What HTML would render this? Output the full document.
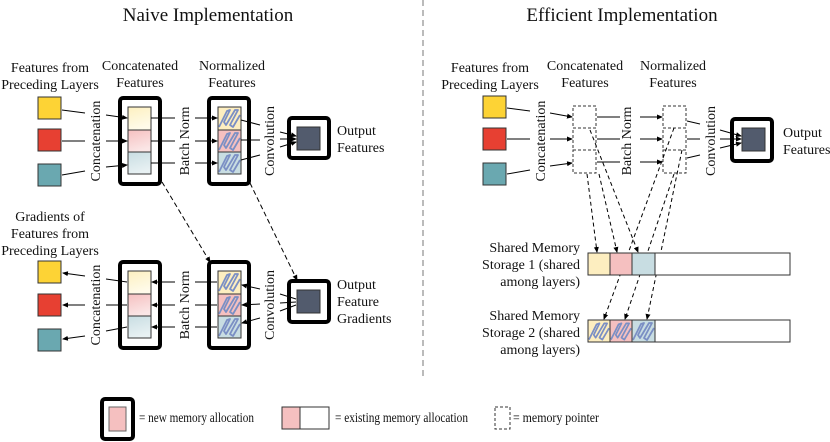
<!DOCTYPE html>
<html><head><meta charset="utf-8"><style>
html,body{margin:0;padding:0;background:#fff}
svg{display:block}
text{font-family:"Liberation Serif",serif;fill:#111}
</style></head><body>
<svg width="830" height="442" viewBox="0 0 830 442" xmlns="http://www.w3.org/2000/svg">
<defs>
<marker id="a" markerWidth="6" markerHeight="6" refX="5" refY="3" orient="auto" markerUnits="userSpaceOnUse"><path d="M0,0.5 L6,3 L0,5.5z" fill="#000"/></marker>
<linearGradient id="gy" x1="0" y1="0" x2="0.3" y2="1"><stop offset="0" stop-color="#fdf0c0"/><stop offset="1" stop-color="#fffbea"/></linearGradient>
<linearGradient id="gr" x1="0" y1="0" x2="0.3" y2="1"><stop offset="0" stop-color="#f5c0c0"/><stop offset="1" stop-color="#fbe6e6"/></linearGradient>
<linearGradient id="gt" x1="0" y1="0" x2="0.3" y2="1"><stop offset="0" stop-color="#c8dde2"/><stop offset="1" stop-color="#e8f1f3"/></linearGradient>
<symbol id="h" viewBox="0 0 23 22" width="23" height="22"><polyline points="1,20 9,4 12,3 6,15 8,18 17,3 20,3 12,18 15,20 22,8" fill="none" stroke="#7b8fc4" stroke-width="1.8" stroke-linejoin="round"/></symbol>
</defs>
<g font-size="13">
<text x="208" y="21" font-size="19" text-anchor="middle">Naive Implementation</text>
<text x="622" y="21" font-size="19" text-anchor="middle">Efficient Implementation</text>
</g>
<line x1="423" y1="0" x2="423" y2="380" stroke="#777" stroke-dasharray="6,4"/>

<!-- LEFT TOP -->
<g font-size="14" text-anchor="middle">
<text x="50" y="72">Features from</text><text x="50" y="89">Preceding Layers</text>
<text x="140" y="70">Concatenated</text><text x="140" y="87">Features</text>
<text x="232" y="70">Normalized</text><text x="232" y="87">Features</text>
</g>
<g stroke="#333" stroke-width="1">
<rect x="38" y="97" width="23" height="22" fill="#fdd335"/>
<rect x="38" y="129" width="23" height="22" fill="#e74032"/>
<rect x="38" y="164" width="23" height="22" fill="#6aa8b0"/>
</g>
<rect x="120" y="98" width="40" height="86" rx="3" fill="#fff" stroke="#000" stroke-width="4"/>
<rect x="128" y="107" width="23" height="23" fill="url(#gy)" stroke="#333"/>
<rect x="128" y="130" width="23" height="22" fill="url(#gr)" stroke="#333"/>
<rect x="128" y="152" width="23" height="22" fill="url(#gt)" stroke="#333"/>
<rect x="209" y="98" width="40" height="86" rx="3" fill="#fff" stroke="#000" stroke-width="4"/>
<rect x="218" y="107" width="23" height="23" fill="#fdeec0" stroke="#333"/>
<rect x="218" y="130" width="23" height="22" fill="#f5c0c0" stroke="#333"/>
<rect x="218" y="152" width="23" height="22" fill="#c8dde2" stroke="#333"/>
<use href="#h" x="218" y="107"/><use href="#h" x="218" y="130"/><use href="#h" x="218" y="152"/>
<rect x="289" y="118" width="40" height="40" rx="3" fill="#fff" stroke="#000" stroke-width="4"/>
<rect x="297" y="127" width="23" height="23" fill="#525b6d" stroke="#333"/>
<text x="337" y="135" font-size="14">Output</text><text x="337" y="152" font-size="14">Features</text>
<g font-size="14" text-anchor="middle">
<text transform="translate(100,141) rotate(-90)">Concatenation</text>
<text transform="translate(189,141) rotate(-90)">Batch Norm</text>
<text transform="translate(274,141) rotate(-90)">Convolution</text>
</g>
<g stroke="#000" stroke-width="1" fill="none">
<line x1="62" y1="110" x2="85" y2="113"/><line x1="106" y1="115" x2="127" y2="118" marker-end="url(#a)"/>
<line x1="62" y1="141" x2="85" y2="141"/><line x1="106" y1="141" x2="127" y2="141" marker-end="url(#a)"/>
<line x1="62" y1="175" x2="85" y2="171"/><line x1="106" y1="167" x2="127" y2="165" marker-end="url(#a)"/>
<line x1="151" y1="118" x2="175" y2="118"/><line x1="195" y1="118" x2="217" y2="118" marker-end="url(#a)"/>
<line x1="151" y1="141" x2="175" y2="141"/><line x1="195" y1="141" x2="217" y2="141" marker-end="url(#a)"/>
<line x1="151" y1="163" x2="175" y2="163"/><line x1="195" y1="163" x2="217" y2="163" marker-end="url(#a)"/>
<line x1="241" y1="120" x2="260" y2="125"/><line x1="280" y1="132" x2="296" y2="136" marker-end="url(#a)"/>
<line x1="241" y1="140" x2="260" y2="140"/><line x1="280" y1="139" x2="296" y2="139" marker-end="url(#a)"/>
<line x1="241" y1="160" x2="260" y2="155"/><line x1="280" y1="147" x2="296" y2="142" marker-end="url(#a)"/>
<line x1="162" y1="182" x2="210" y2="262" stroke-dasharray="5,3" marker-end="url(#a)"/>
<line x1="250" y1="183" x2="297" y2="280" stroke-dasharray="5,3" marker-end="url(#a)"/>
</g>

<!-- LEFT BOTTOM -->
<g font-size="14" text-anchor="middle">
<text x="50" y="221">Gradients of</text><text x="50" y="238">Features from</text><text x="50" y="255">Preceding Layers</text>
</g>
<g stroke="#333" stroke-width="1">
<rect x="38" y="261" width="23" height="22" fill="#fdd335"/>
<rect x="38" y="294" width="23" height="22" fill="#e74032"/>
<rect x="38" y="329" width="23" height="22" fill="#6aa8b0"/>
</g>
<rect x="120" y="262" width="40" height="86" rx="3" fill="#fff" stroke="#000" stroke-width="4"/>
<rect x="128" y="271" width="23" height="23" fill="url(#gy)" stroke="#333"/>
<rect x="128" y="294" width="23" height="22" fill="url(#gr)" stroke="#333"/>
<rect x="128" y="316" width="23" height="22" fill="url(#gt)" stroke="#333"/>
<rect x="209" y="262" width="40" height="86" rx="3" fill="#fff" stroke="#000" stroke-width="4"/>
<rect x="218" y="271" width="23" height="23" fill="#fdeec0" stroke="#333"/>
<rect x="218" y="294" width="23" height="22" fill="#f5c0c0" stroke="#333"/>
<rect x="218" y="316" width="23" height="22" fill="#c8dde2" stroke="#333"/>
<use href="#h" x="218" y="271"/><use href="#h" x="218" y="294"/><use href="#h" x="218" y="316"/>
<rect x="289" y="281" width="40" height="41" rx="3" fill="#fff" stroke="#000" stroke-width="4"/>
<rect x="297" y="290" width="23" height="23" fill="#525b6d" stroke="#333"/>
<text x="337" y="289" font-size="14">Output</text><text x="337" y="306" font-size="14">Feature</text><text x="337" y="323" font-size="14">Gradients</text>
<g font-size="14" text-anchor="middle">
<text transform="translate(100,305) rotate(-90)">Concatenation</text>
<text transform="translate(189,305) rotate(-90)">Batch Norm</text>
<text transform="translate(274,305) rotate(-90)">Convolution</text>
</g>
<g stroke="#000" stroke-width="1" fill="none">
<line x1="85" y1="276" x2="63" y2="273" marker-end="url(#a)"/><line x1="127" y1="282" x2="106" y2="279"/>
<line x1="85" y1="305" x2="63" y2="305" marker-end="url(#a)"/><line x1="127" y1="305" x2="106" y2="305"/>
<line x1="85" y1="336" x2="63" y2="339" marker-end="url(#a)"/><line x1="127" y1="327" x2="106" y2="331"/>
<line x1="175" y1="282" x2="152" y2="282" marker-end="url(#a)"/><line x1="217" y1="282" x2="195" y2="282"/>
<line x1="175" y1="305" x2="152" y2="305" marker-end="url(#a)"/><line x1="217" y1="305" x2="195" y2="305"/>
<line x1="175" y1="327" x2="152" y2="327" marker-end="url(#a)"/><line x1="217" y1="327" x2="195" y2="327"/>
<line x1="260" y1="289" x2="242" y2="285" marker-end="url(#a)"/><line x1="296" y1="299" x2="280" y2="294"/>
<line x1="260" y1="304" x2="242" y2="305" marker-end="url(#a)"/><line x1="296" y1="302" x2="280" y2="303"/>
<line x1="260" y1="318" x2="242" y2="323" marker-end="url(#a)"/><line x1="296" y1="305" x2="280" y2="311"/>
</g>

<!-- RIGHT -->
<g font-size="14" text-anchor="middle">
<text x="490" y="72">Features from</text><text x="490" y="89">Preceding Layers</text>
<text x="585" y="70">Concatenated</text><text x="585" y="87">Features</text>
<text x="673" y="70">Normalized</text><text x="673" y="87">Features</text>
</g>
<g stroke="#333" stroke-width="1">
<rect x="483" y="96" width="23" height="22" fill="#fdd335"/>
<rect x="483" y="128" width="23" height="22" fill="#e74032"/>
<rect x="483" y="163" width="23" height="22" fill="#6aa8b0"/>
</g>
<g fill="none" stroke="#333" stroke-dasharray="3,2">
<rect x="573" y="106" width="23" height="22"/><rect x="573" y="128" width="23" height="22"/><rect x="573" y="150" width="23" height="23"/>
<rect x="663" y="106" width="23" height="22"/><rect x="663" y="128" width="23" height="22"/><rect x="663" y="150" width="23" height="23"/>
</g>
<rect x="732" y="119" width="40" height="42" rx="3" fill="#fff" stroke="#000" stroke-width="4"/>
<rect x="742" y="128" width="23" height="23" fill="#525b6d" stroke="#333"/>
<text x="783" y="137" font-size="14">Output</text><text x="783" y="154" font-size="14">Features</text>
<g font-size="14" text-anchor="middle">
<text transform="translate(545,141) rotate(-90)">Concatenation</text>
<text transform="translate(631,141) rotate(-90)">Batch Norm</text>
<text transform="translate(715,141) rotate(-90)">Convolution</text>
</g>
<g stroke="#000" stroke-width="1" fill="none">
<line x1="507" y1="108" x2="530" y2="111"/><line x1="550" y1="113" x2="572" y2="117" marker-end="url(#a)"/>
<line x1="507" y1="139" x2="530" y2="139"/><line x1="550" y1="139" x2="572" y2="139" marker-end="url(#a)"/>
<line x1="507" y1="174" x2="530" y2="170"/><line x1="550" y1="166" x2="572" y2="163" marker-end="url(#a)"/>
<line x1="597" y1="117" x2="620" y2="117"/><line x1="640" y1="117" x2="662" y2="117" marker-end="url(#a)"/>
<line x1="597" y1="139" x2="620" y2="139"/><line x1="640" y1="139" x2="662" y2="139" marker-end="url(#a)"/>
<line x1="597" y1="162" x2="620" y2="162"/><line x1="640" y1="162" x2="662" y2="162" marker-end="url(#a)"/>
<line x1="687" y1="121" x2="700" y2="124"/><line x1="720" y1="130" x2="741" y2="136" marker-end="url(#a)"/>
<line x1="687" y1="139" x2="700" y2="139"/><line x1="720" y1="139" x2="741" y2="139" marker-end="url(#a)"/>
<line x1="687" y1="158" x2="700" y2="155"/><line x1="720" y1="148" x2="741" y2="143" marker-end="url(#a)"/>
</g>
<g stroke="#000" stroke-width="1" fill="none" stroke-dasharray="4,3">
<line x1="587" y1="174" x2="597" y2="252" marker-end="url(#a)"/>
<line x1="599" y1="174" x2="617" y2="252" marker-end="url(#a)"/>
<line x1="590" y1="130" x2="638" y2="252" marker-end="url(#a)"/>
<line x1="674" y1="128" x2="604" y2="319" marker-end="url(#a)"/>
<line x1="674" y1="174" x2="625" y2="319" marker-end="url(#a)"/>
<line x1="682" y1="150" x2="647" y2="319" marker-end="url(#a)"/>
</g>
<g font-size="14" text-anchor="end">
<text x="580" y="252">Shared Memory</text><text x="580" y="269">Storage 1 (shared</text><text x="580" y="286">among layers)</text>
<text x="580" y="320">Shared Memory</text><text x="580" y="337">Storage 2 (shared</text><text x="580" y="354">among layers)</text>
</g>
<rect x="588" y="253" width="202" height="22" fill="#fff" stroke="#333"/>
<rect x="588" y="253" width="22" height="22" fill="#fdeec0" stroke="#333"/>
<rect x="610" y="253" width="22" height="22" fill="#f5c0c0" stroke="#333"/>
<rect x="632" y="253" width="23" height="22" fill="#c8dde2" stroke="#333"/>
<rect x="588" y="320" width="202" height="22" fill="#fff" stroke="#333"/>
<rect x="588" y="320" width="22" height="22" fill="#fdeec0" stroke="#333"/>
<rect x="610" y="320" width="22" height="22" fill="#f5c0c0" stroke="#333"/>
<rect x="632" y="320" width="23" height="22" fill="#c8dde2" stroke="#333"/>
<use href="#h" x="588" y="320" width="22"/><use href="#h" x="610" y="320" width="22"/><use href="#h" x="632" y="320"/>

<!-- LEGEND -->
<rect x="102" y="399" width="31" height="40" rx="3" fill="#fff" stroke="#000" stroke-width="4"/>
<rect x="109" y="407" width="17" height="24" fill="#f5c0c0" stroke="#666"/>
<text x="139" y="422" font-size="13.5" textLength="115" lengthAdjust="spacingAndGlyphs">= new memory allocation</text>
<rect x="282" y="407" width="47" height="22" fill="#fff" stroke="#333"/>
<rect x="282" y="407" width="18" height="22" fill="#f5c0c0" stroke="#333"/>
<text x="335" y="422" font-size="13.5" textLength="133" lengthAdjust="spacingAndGlyphs">= existing memory allocation</text>
<rect x="495" y="407" width="15" height="22" fill="none" stroke="#333" stroke-dasharray="3,2"/>
<text x="513" y="422" font-size="13.5" textLength="86" lengthAdjust="spacingAndGlyphs">= memory pointer</text>
</svg>
</body></html>
